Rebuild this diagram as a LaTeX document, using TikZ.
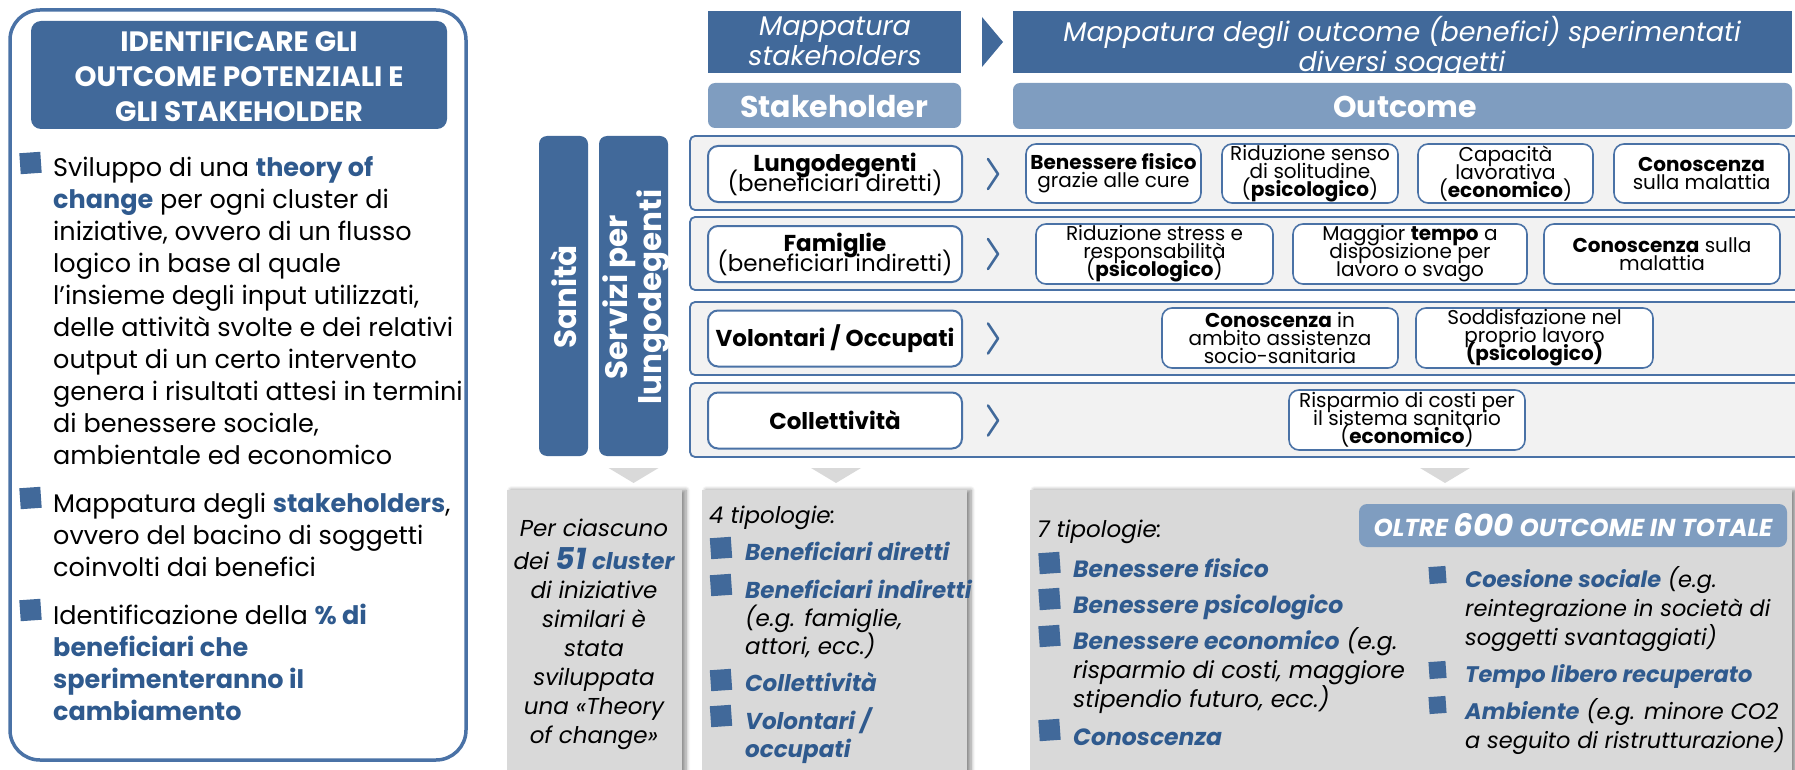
\documentclass[tikz,border=0pt]{standalone}
\usepackage{fontspec}
\setmainfont{Poppins}
\usetikzlibrary{shadows.blur}

\definecolor{mapblue}{HTML}{41699A}
\definecolor{headblue}{HTML}{7F9DC0}
\definecolor{txtblue}{HTML}{2F5A8E}
\definecolor{rowgray}{HTML}{F2F2F2}
\definecolor{boxgray}{HTML}{D9D9D9}
\definecolor{frameblue}{HTML}{4A72A6}

\newcommand{\lnstrut}[1]{\rule{0pt}{#1pt}}
\newcommand{\hl}[1]{\textcolor{txtblue}{\textbf{#1}}}
\newcommand{\fs}[2]{\fontsize{#1}{#2}\selectfont}
\lineskiplimit=-100pt

\tikzset{
  sidebar/.style={fill=mapblue, rounded corners=8pt},
  rowpanel/.style={fill=rowgray, draw=frameblue, line width=1.8pt, rounded corners=5pt},
  stkbox/.style={draw=frameblue, fill=white, line width=2pt, rounded corners=10pt,
    minimum width=254pt, minimum height=56pt, inner sep=0pt, align=center,
    font=\fs{23}{20}},
  outbox/.style={draw=frameblue, fill=white, line width=1.6pt, rounded corners=10pt,
    minimum height=60pt, inner sep=0pt, align=center, font=\fs{20}{18}},
  chev/.style={draw=mapblue, line width=2.6pt, line cap=round, line join=round},
  bulsq/.style={fill=mapblue, minimum size=#1, inner sep=0pt, rotate=4},
  bulsq/.default=21pt,
  graybox/.style={fill=boxgray, blur shadow={shadow xshift=4pt, shadow yshift=0pt,
    shadow blur steps=6, shadow blur radius=4pt, shadow opacity=45}},
  downtri/.style={fill=boxgray},
  txt/.style={inner sep=0pt, align=left, anchor=north west},
  headtxt/.style={inner sep=0pt, align=center, anchor=north, text=white}
}

\begin{document}
\begin{tikzpicture}[x=1pt, y=-1pt]
  \useasboundingbox (0,0) rectangle (1795,770);
  \clip (0,0) rectangle (1795,770);

  % left panel
  \draw[frameblue, line width=3.5pt, rounded corners=30pt] (10,10) rectangle (466,760);
  \fill[mapblue, rounded corners=10pt] (31,21) rectangle (447,129);
  \node[headtxt, font=\fs{28}{35}\bfseries] (lefthead) at (239,31)
    {\lnstrut{20}IDENTIFICARE GLI\\OUTCOME POTENZIALI E\\GLI STAKEHOLDER};

  \node[bulsq] (lb1) at (30.5,163) {};
  \node[bulsq] (lb2) at (30.5,498) {};
  \node[bulsq] (lb3) at (30.5,610) {};
  \node[txt, font=\fs{25.5}{32}] (theory) at (53,156)
    {\lnstrut{20}Sviluppo di una \hl{theory of}\\\hl{change} per ogni cluster di\\
     iniziative, ovvero di un flusso\\logico in base al quale\\
     l'insieme degli input utilizzati,\\delle attività svolte e dei relativi\\
     output di un certo intervento\\genera i risultati attesi in termini\\
     di benessere sociale,\\ambientale ed economico};
  \node[txt, font=\fs{25.5}{32}] (mappa) at (53,492)
    {\lnstrut{20}Mappatura degli \hl{stakeholders},\\ovvero del bacino di soggetti\\
     coinvolti dai benefici};
  \node[txt, font=\fs{25.5}{32}] (perc) at (53,604)
    {\lnstrut{20}Identificazione della \hl{\% di}\\\hl{beneficiari che}\\
     \hl{sperimenteranno il}\\\hl{cambiamento}};

  % headers
  \fill[mapblue] (708,11) rectangle (961,73);
  \fill[mapblue] (982,17) -- (1003,42) -- (982,67) -- cycle;
  \fill[mapblue] (1013,11) rectangle (1792,73);
  \node[headtxt, font=\fs{27}{30}\itshape] (mapstk) at (835,16)
    {\lnstrut{19}Mappatura\\stakeholders};
  \node[headtxt, font=\fs{27}{30}\itshape] (mapout) at (1402,16)
    {\lnstrut{19}Mappatura degli outcome (benefici) sperimentati\\diversi soggetti};
  \fill[headblue, rounded corners=7pt] (708,83) rectangle (961,128);
  \fill[headblue, rounded corners=7pt] (1013,83) rectangle (1792,129);
  \node[inner sep=0pt, anchor=base, text=white, font=\fs{30}{30}\bfseries] (stktitle) at (834,118) {Stakeholder};
  \node[inner sep=0pt, anchor=base, text=white, font=\fs{30}{30}\bfseries] (outtitle) at (1405,118) {Outcome};

  % side bars
  \fill[sidebar] (539,136) rectangle (588,456);
  \fill[sidebar] (599,136) rectangle (668,456);
  \node[rotate=90, inner sep=0pt, text=white, font=\fs{31}{34}\bfseries] (sanita) at (564,297) {Sanità};
  \node[rotate=90, inner sep=0pt, align=center, text=white, font=\fs{31}{34}\bfseries] (servizi) at (636,297)
    {Servizi per\\lungodegenti};

  % rows
  \draw[rowpanel] (690,136) rectangle (1830,210);
  \draw[rowpanel] (690,217) rectangle (1830,290);
  \draw[rowpanel] (690,302) rectangle (1830,375);
  \draw[rowpanel] (690,383) rectangle (1830,457);

  \node[stkbox] (lungo) at (835,174) {\textbf{Lungodegenti}\\(beneficiari diretti)};
  \node[stkbox] (famig) at (835,254) {\textbf{Famiglie}\\(beneficiari indiretti)};
  \node[stkbox] (volon) at (835,338.5) {\textbf{Volontari / Occupati}};
  \node[stkbox] (collet) at (835,420.5) {\textbf{Collettività}};

  \foreach \s in {lungo,famig,volon,collet}
    \draw[chev] ([xshift=25pt,yshift=15pt]\s.east) -- ([xshift=35pt]\s.east)
      -- ([xshift=25pt,yshift=-15pt]\s.east);

  \node[outbox, minimum width=175pt, minimum height=59pt] (fisico) at (1113.5,173.5)
    {\textbf{Benessere fisico}\\grazie alle cure};
  \node[outbox, minimum width=176pt, minimum height=59pt] (solit) at (1310,173.5)
    {Riduzione senso\\di solitudine\\(\textbf{psicologico})};
  \node[outbox, minimum width=175pt, minimum height=59pt] (lavor) at (1505.5,173.5)
    {Capacità\\lavorativa\\(\textbf{economico})};
  \node[outbox, minimum width=175pt, minimum height=59pt] (malat) at (1701.5,173.5)
    {\textbf{Conoscenza}\\sulla malattia};

  \node[outbox, minimum width=237pt] (stress) at (1154.5,254)
    {Riduzione stress e\\responsabilità\\(\textbf{psicologico})};
  \node[outbox, minimum width=234pt] (tempo) at (1410,254)
    {Maggior \textbf{tempo} a\\disposizione per\\lavoro o svago};
  \node[outbox, minimum width=236pt] (malat2) at (1662,254)
    {\textbf{Conoscenza} sulla\\malattia};

  \node[outbox, minimum width=236pt] (assist) at (1280,338)
    {\textbf{Conoscenza} in\\ambito assistenza\\socio-sanitaria};
  \node[outbox, minimum width=237pt] (soddis) at (1534.5,338)
    {Soddisfazione nel\\proprio lavoro\\\textbf{(psicologico)}};

  \node[outbox, minimum width=236pt] (rispar) at (1407,420)
    {Risparmio di costi per\\il sistema sanitario\\(\textbf{economico})};

  % bottom boxes
  \foreach \c in {633.5,836,1445}
    \fill[downtri] (\c-25,468) -- (\c+25,468) -- (\c,483) -- cycle;
  \fill[graybox] (507,490) rectangle (682,790);
  \fill[graybox] (702,490) rectangle (967,790);
  \fill[graybox] (1030,490) rectangle (1792,790);

  \node[headtxt, text=black, font=\fs{23}{29}\itshape] (cluster) at (594,519)
    {\lnstrut{17}Per ciascuno\\[4pt]dei {\color{txtblue}\bfseries{\fs{30}{29}51} cluster}\\
     di iniziative\\similari è\\stata\\sviluppata\\una «Theory\\of change»};

  \node[anchor=base west, inner sep=0pt, font=\fs{23}{29}\itshape] (tipo4) at (709,523) {4 tipologie:};
  \foreach \y in {548,585,680,716}
    \node[bulsq] (sb\y) at (721,\y) {};
  \node[txt, font=\fs{23}{28}\itshape] (stklist) at (745,542)
    {\lnstrut{17}\hl{Beneficiari diretti}\\[10pt]\hl{Beneficiari indiretti}\\
     (e.g. famiglie,\\attori, ecc.)\\[9pt]\hl{Collettività}\\[10pt]\hl{Volontari /}\\
     \hl{occupati}};

  \node[anchor=base west, inner sep=0pt, font=\fs{23}{29}\itshape] (tipo7) at (1037,537) {7 tipologie:};
  \node[fill=headblue, rounded corners=8pt, minimum width=428pt, minimum height=43pt,
    inner sep=0pt, text=white, font=\fs{24.5}{24}\bfseries\itshape] (oltre) at (1573,525.5)
    {OLTRE {\fs{31}{24}600} OUTCOME IN TOTALE};
  \foreach \y in {563,599,636,730}
    \node[bulsq] (ob\y) at (1049.5,\y) {};
  \foreach \y in {575,670,705}
    \node[bulsq=17pt] (rb\y) at (1437.5,\y) {};
  \node[txt, font=\fs{23.5}{29}\itshape] (outlist) at (1073,558)
    {\lnstrut{17}\hl{Benessere fisico}\\[7pt]\hl{Benessere psicologico}\\[7pt]
     \hl{Benessere economico} (e.g.\\risparmio di costi, maggiore\\
     stipendio futuro, ecc.)\\[9pt]\hl{Conoscenza}};
  \node[txt, font=\fs{22.5}{29}\itshape] (outlist2) at (1465,566)
    {\lnstrut{17}\hl{Coesione sociale} (e.g.\\reintegrazione in società di\\
     soggetti svantaggiati)\\[8pt]\hl{Tempo libero recuperato}\\[8pt]
     \hl{Ambiente} (e.g. minore CO2\\a seguito di ristrutturazione)};
\end{tikzpicture}
\end{document}
